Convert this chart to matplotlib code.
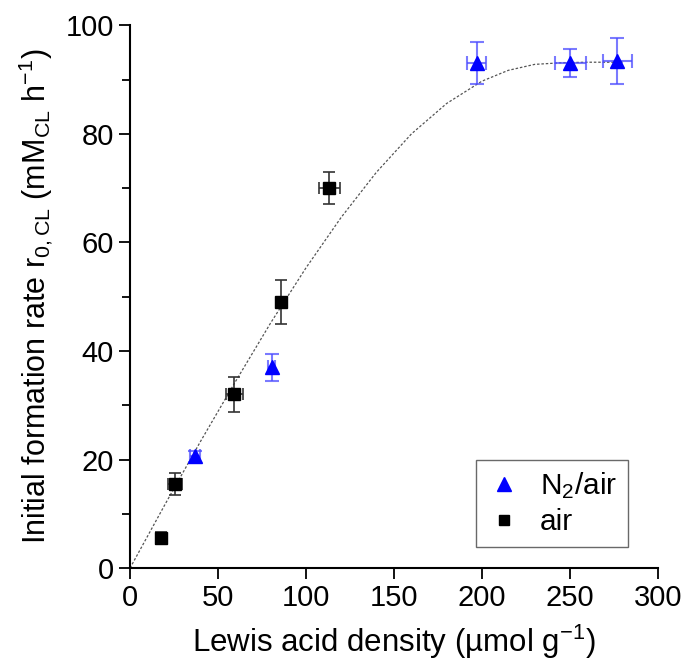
import matplotlib.pyplot as plt
from matplotlib.lines import Line2D

plt.rcParams['font.family'] = ['Liberation Sans', 'DejaVu Sans']
plt.rcParams['mathtext.fontset'] = 'custom'
plt.rcParams['mathtext.rm'] = 'Liberation Sans'
plt.rcParams['mathtext.it'] = 'Liberation Sans:italic'

# air series (black squares)
air_x = [17.4, 25.6, 59.3, 86.0, 113.3]
air_y = [5.6, 15.5, 32.0, 49.0, 70.0]
air_xerr = [2.3, 4.0, 4.7, 2.3, 6.0]
air_yerr = [1.1, 2.0, 3.2, 4.1, 3.0]

# N2/air series (blue triangles)
n2_x = [37.0, 80.5, 197.0, 250.4, 277.0]
n2_y = [20.6, 37.0, 93.0, 93.0, 93.4]
n2_xerr = [3.0, 2.0, 5.4, 9.0, 8.2]
n2_yerr = [1.0, 2.5, 3.9, 2.6, 4.2]

# fitted curve
fit_x = [0, 20, 40, 60, 80, 100, 120, 140, 160, 180, 200, 215, 230, 245, 260, 280]
fit_y = [0, 11.8, 23.3, 34.4, 45.2, 55.3, 64.6, 72.9, 80.0, 85.6, 89.7, 91.7, 92.8, 93.1, 93.2, 93.2]

fig = plt.figure(figsize=(6.88, 6.66), dpi=100, facecolor='white')
ax = fig.add_axes([0.189, 0.147, 0.767, 0.815])

ax.plot(fit_x, fit_y, linestyle=(0, (2, 1.5)), color='#555555', linewidth=0.9, zorder=1)

ax.errorbar(air_x, air_y, xerr=air_xerr, yerr=air_yerr, fmt='s', color='black',
            markersize=8, ecolor='#333333', elinewidth=1.2, capsize=4, capthick=1.2, zorder=3)
ax.errorbar(n2_x, n2_y, xerr=n2_xerr, yerr=n2_yerr, fmt='^', color='blue',
            markersize=10, ecolor=(0.3, 0.3, 1.0, 0.75), elinewidth=1.5, capsize=5, capthick=1.5, zorder=3)

ax.set_xlim(0, 300)
ax.set_ylim(0, 100)
ax.set_xticks(range(0, 301, 50))
ax.set_yticks(range(0, 101, 20))
ax.set_yticks(range(10, 100, 20), minor=True)
ax.spines['top'].set_visible(False)
ax.spines['right'].set_visible(False)
ax.spines['left'].set_linewidth(1.5)
ax.spines['bottom'].set_linewidth(1.5)
ax.tick_params(which='major', direction='out', length=8, width=1.3, labelsize=21)
ax.tick_params(which='minor', direction='out', length=6, width=1.3)

ax.set_xlabel('Lewis acid density (\u00b5mol g$^{-1}$)', fontsize=22.5, labelpad=8)
ax.set_ylabel('Initial formation rate r$_{0,\\mathrm{CL}}$ (mM$_{\\mathrm{CL}}$ h$^{-1}$)',
              fontsize=22, labelpad=8)

handles = [Line2D([], [], marker='^', color='blue', linestyle='none', markersize=10),
           Line2D([], [], marker='s', color='black', linestyle='none', markersize=7)]
leg = ax.legend(handles, ['N$_2$/air', 'air'], loc='lower right', bbox_to_anchor=(0.943, 0.039),
                borderaxespad=0, fontsize=21.5, frameon=True, fancybox=False, edgecolor='#444444',
                handletextpad=0.6, borderpad=0.35, labelspacing=0.25, handlelength=1.2)
leg.get_frame().set_linewidth(1.0)

fig.savefig('out.png', dpi=100, facecolor='white')
